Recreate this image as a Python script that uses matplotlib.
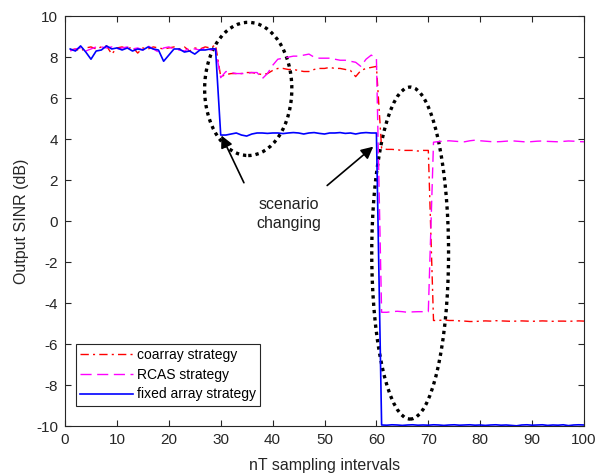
import matplotlib.pyplot as plt
from matplotlib.patches import Ellipse
import numpy as np

plt.rcParams['font.family'] = ['Liberation Sans', 'DejaVu Sans']
plt.rcParams['axes.unicode_minus'] = False

n = np.arange(1, 101)

# output SINR (dB) for each strategy, one value per sampling interval
coarray = [
    8.35, 8.40, 8.30, 8.45, 8.50, 8.40, 8.50, 8.55, 8.15, 8.45,
    8.50, 8.40, 8.50, 8.20, 8.45, 8.40, 8.50, 8.45, 8.40, 8.45,
    8.50, 8.40, 8.50, 8.30, 8.45, 8.40, 8.50, 8.45, 8.60, 7.05,
    7.15, 7.20, 7.20, 7.20, 7.25, 7.25, 7.20, 7.15, 7.20, 7.35,
    7.45, 7.45, 7.40, 7.40, 7.35, 7.30, 7.30, 7.40, 7.45, 7.45,
    7.50, 7.45, 7.45, 7.40, 7.35, 7.05, 7.35, 7.45, 7.50, 7.55,
    3.55, 3.50, 3.50, 3.48, 3.45, 3.45, 3.45, 3.42, 3.45, 3.45,
    -4.85, -4.85, -4.82, -4.85, -4.85, -4.87, -4.88, -4.90, -4.90, -4.88,
    -4.87, -4.88, -4.86, -4.87, -4.88, -4.89, -4.88, -4.87, -4.88, -4.89,
    -4.88, -4.87, -4.88, -4.89, -4.88, -4.88, -4.89, -4.88, -4.87, -4.88,
]

rcas = [
    8.30, 8.40, 8.45, 8.30, 8.40, 8.50, 8.50, 8.45, 8.50, 8.40,
    8.45, 8.50, 8.40, 8.45, 8.35, 8.55, 8.40, 8.25, 8.45, 8.50,
    8.40, 8.35, 8.30, 8.45, 8.40, 8.35, 8.45, 8.35, 8.40, 7.00,
    7.30, 7.25, 7.20, 7.20, 7.20, 7.25, 7.25, 6.95, 7.20, 7.60,
    7.90, 7.95, 8.00, 8.05, 8.05, 8.10, 8.15, 8.00, 7.95, 7.95,
    7.95, 7.90, 7.85, 7.85, 7.80, 7.75, 7.55, 7.90, 8.10, 7.95,
    -4.45, -4.45, -4.42, -4.40, -4.42, -4.45, -4.43, -4.42, -4.42, -4.42,
    3.85, 3.88, 3.90, 3.92, 3.90, 3.88, 3.87, 3.92, 3.95, 3.92,
    3.90, 3.88, 3.87, 3.88, 3.90, 3.92, 3.90, 3.88, 3.86, 3.88,
    3.90, 3.91, 3.89, 3.88, 3.87, 3.89, 3.91, 3.90, 3.88, 3.87,
]

fixed = [
    8.40, 8.30, 8.55, 8.25, 7.90, 8.30, 8.35, 8.55, 8.40, 8.45,
    8.35, 8.45, 8.30, 8.40, 8.35, 8.50, 8.40, 8.35, 7.80, 8.10,
    8.40, 8.40, 8.25, 8.30, 8.15, 8.35, 8.35, 8.40, 8.40, 4.20,
    4.20, 4.25, 4.30, 4.20, 4.15, 4.25, 4.30, 4.30, 4.28, 4.30,
    4.30, 4.27, 4.30, 4.32, 4.30, 4.25, 4.30, 4.32, 4.28, 4.25,
    4.30, 4.30, 4.32, 4.28, 4.30, 4.25, 4.30, 4.32, 4.30, 4.30,
    -9.95, -9.96, -9.94, -9.95, -9.97, -9.95, -9.94, -9.96, -9.95, -9.96,
    -9.94, -9.95, -9.97, -9.95, -9.94, -9.96, -9.95, -9.94, -9.96, -9.95,
    -9.97, -9.95, -9.94, -9.96, -9.95, -9.97, -9.99, -9.95, -9.94, -9.96,
    -9.95, -9.94, -9.97, -9.95, -9.96, -9.94, -9.98, -9.95, -9.94, -9.95,
]

fig = plt.figure(figsize=(6.1, 4.76), dpi=100)
ax = fig.add_axes([0.1066, 0.105, 0.8508, 0.861])

ax.plot(n, coarray, color='red', lw=1.0, dashes=(6, 3, 1.5, 3), label='coarray strategy')
ax.plot(n, rcas, color='magenta', lw=1.0, dashes=(8, 4), label='RCAS strategy')
ax.plot(n, fixed, color='blue', lw=1.2, label='fixed array strategy')

# dotted rings around the two scenario changes
for cx, cy, w, h in [(35.3, 6.45, 16.8, 6.5), (66.5, -1.56, 14.8, 16.2)]:
    ax.add_patch(Ellipse((cx, cy), w, h, fill=False, edgecolor='black',
                         lw=2.4, linestyle=(0, (1, 1.2))))

arrow = dict(arrowstyle='-|>', color='black', lw=1.2, mutation_scale=18)
ax.annotate('', xy=(29.9, 4.3), xytext=(34.7, 1.75), arrowprops=arrow)
ax.annotate('', xy=(59.8, 3.72), xytext=(50.1, 1.65), arrowprops=arrow)
ax.text(43.2, 0.35, 'scenario\nchanging', ha='center', va='center',
        fontsize=11.5, linespacing=1.4, color='#222222')

ax.set_xlim(0, 100)
ax.set_ylim(-10, 10)
ax.set_xticks(np.arange(0, 101, 10))
ax.set_yticks(np.arange(-10, 11, 2))
ax.tick_params(direction='in', length=4, top=True, right=True,
               labelsize=11, colors='#262626', pad=5)
for s in ax.spines.values():
    s.set_color('#262626')
    s.set_linewidth(0.8)

ax.set_xlabel('nT sampling intervals', fontsize=11.5, color='#262626', labelpad=8)
ax.set_ylabel('Output SINR (dB)', fontsize=11.5, color='#262626', labelpad=5)

leg = ax.legend(loc='lower left', bbox_to_anchor=(0.021, 0.05), borderaxespad=0,
                fancybox=False, edgecolor='#262626', framealpha=1,
                fontsize=10, handlelength=3.8, handletextpad=0.3,
                labelspacing=0.4, borderpad=0.3)
leg.get_frame().set_linewidth(0.8)

fig.savefig('out.png', dpi=100)
